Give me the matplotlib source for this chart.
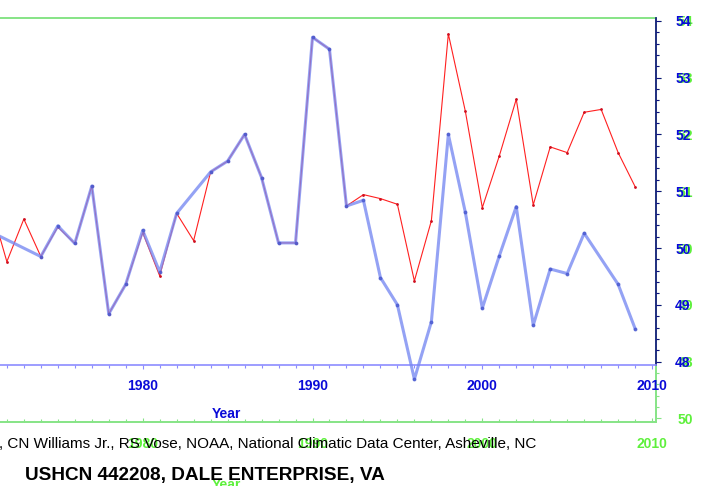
import matplotlib
matplotlib.use("Agg")
import matplotlib.pyplot as plt
from matplotlib.ticker import MultipleLocator, FixedLocator, FixedFormatter

# ---------------- data ----------------
red_years = list(range(1971, 2010))
red_values = [50.80, 49.76, 50.51, 49.85, 50.37, 50.08, 51.09, 48.84, 49.36, 50.27,
              49.51, 50.61, 50.13, 51.34, 51.53, 52.00, 51.24, 50.09, 50.09, 53.71,
              53.50, 50.74, 50.94, 50.87, 50.77, 49.42, 50.48, 53.77, 52.41, 50.71,
              51.62, 52.62, 50.76, 51.78, 51.68, 52.39, 52.44, 51.68, 51.08]

blue_years = [1970, 1974, 1975, 1976, 1977, 1978, 1979, 1980, 1981, 1982,
              1984, 1985, 1986, 1987, 1988, 1989, 1990, 1991, 1992, 1993,
              1994, 1995, 1996, 1997, 1998, 1999, 2000, 2001, 2002, 2003,
              2004, 2005, 2006, 2008, 2009]
blue_values = [50.44, 49.85, 50.39, 50.08, 51.09, 48.84, 49.36, 50.31, 49.58, 50.61,
               51.34, 51.53, 52.00, 51.24, 50.09, 50.09, 53.71, 53.50, 50.74, 50.84,
               49.48, 49.00, 47.69, 48.70, 52.00, 50.63, 48.94, 49.86, 50.73, 48.64,
               49.63, 49.55, 50.26, 49.36, 48.58]

blue_yticks = [48, 49, 50, 51, 52, 53, 54]
green_yticks = [47, 48, 49, 50, 51, 52, 53, 54]
green_ylabels = ["50", "48", "49", "50", "51", "52", "53", "54"]
x_label = "Year"
credit = ", CN Williams Jr., RS Vose, NOAA, National Climatic Data Center, Asheville, NC"
title = "USHCN 442208, DALE ENTERPRISE, VA"

# ---------------- layout helpers ----------------
W, H = 720, 486
DPI = 100
PT = 72.0 / DPI  # points per pixel

def fx(p):
    return p / W

def fy(p):
    return 1 - p / H

XLIM = (1959.55, 2010.25)
PPY = 16.98
X1980 = 142.7
left_px = X1980 + (XLIM[0] - 1980) * PPY
right_px = X1980 + (XLIM[1] - 1980) * PPY
top_px = 18
blue_bottom_px = 365
green_bottom_px = 422
BLUE_YLIM = (47.94, 54.05)
ppu = (blue_bottom_px - top_px) / (BLUE_YLIM[1] - BLUE_YLIM[0])
GREEN_YLIM = (BLUE_YLIM[1] - (green_bottom_px - top_px) / ppu, BLUE_YLIM[1])

plt.rcParams['font.family'] = ['Liberation Sans', 'DejaVu Sans']

fig = plt.figure(figsize=(W / DPI, H / DPI), dpi=DPI)
fig.patch.set_facecolor('white')

GREEN_LINE = '#86e486'
GREEN_TXT = '#5ef03c'
BLUE_TXT = '#0a0ad8'
BLUE_AX = '#8c8cff'
NAVY = '#101080'

# ---------------- green (back) axes ----------------
axg = fig.add_axes([fx(left_px), fy(green_bottom_px), fx(right_px - left_px),
                    (green_bottom_px - top_px) / H])
axg.set_zorder(0)
axg.set_xlim(*XLIM)
axg.set_ylim(*GREEN_YLIM)
axg.set_facecolor('white')
for s in ['top', 'bottom', 'right', 'left']:
    axg.spines[s].set_color(GREEN_LINE)
    axg.spines[s].set_linewidth(1.4)
axg.xaxis.set_major_locator(MultipleLocator(10))
axg.xaxis.set_minor_locator(MultipleLocator(1))
axg.yaxis.tick_right()
axg.yaxis.set_major_locator(FixedLocator(green_yticks))
axg.yaxis.set_major_formatter(FixedFormatter(green_ylabels))
axg.yaxis.set_minor_locator(MultipleLocator(0.2))
axg.tick_params(axis='x', which='both', direction='in', color=GREEN_LINE,
                labelcolor=GREEN_TXT, pad=11, labelsize=10, width=0.8)
axg.tick_params(axis='x', which='major', length=4 * PT)
axg.tick_params(axis='x', which='minor', length=3 * PT)
axg.tick_params(axis='y', which='both', direction='out', color=GREEN_LINE,
                labelcolor=GREEN_TXT, labelsize=10, width=0.8, pad=11.6)
axg.tick_params(axis='y', which='major', length=5 * PT)
axg.tick_params(axis='y', which='minor', length=3 * PT)
for lab in axg.get_xticklabels() + axg.get_yticklabels():
    lab.set_fontweight('bold')

# ---------------- blue (front) axes ----------------
ax = fig.add_axes([fx(left_px), fy(blue_bottom_px), fx(right_px - left_px),
                   (blue_bottom_px - top_px) / H])
ax.set_zorder(1)
ax.patch.set_alpha(0)
ax.set_xlim(*XLIM)
ax.set_ylim(*BLUE_YLIM)
ax.spines['top'].set_visible(False)
ax.spines['left'].set_visible(False)
ax.spines['bottom'].set_color(BLUE_AX)
ax.spines['bottom'].set_linewidth(1.2)
ax.spines['right'].set_color(NAVY)
ax.spines['right'].set_linewidth(1.2)
ax.xaxis.set_major_locator(MultipleLocator(10))
ax.xaxis.set_minor_locator(MultipleLocator(1))
ax.yaxis.tick_right()
ax.yaxis.set_major_locator(FixedLocator(blue_yticks))
ax.yaxis.set_minor_locator(MultipleLocator(0.2))
ax.tick_params(axis='x', which='both', direction='out', color=BLUE_AX,
               labelcolor=BLUE_TXT, pad=7.5, labelsize=10, width=0.8)
ax.tick_params(axis='x', which='major', length=4 * PT)
ax.tick_params(axis='x', which='minor', length=3 * PT)
ax.tick_params(axis='y', which='both', direction='out', color=NAVY,
               labelcolor=BLUE_TXT, labelsize=10, width=0.8, pad=10)
ax.tick_params(axis='y', which='major', length=5 * PT)
ax.tick_params(axis='y', which='minor', length=3 * PT)
for lab in ax.get_xticklabels() + ax.get_yticklabels():
    lab.set_fontweight('bold')

# series
ax.plot(red_years, red_values, color='#ff2020', lw=0.8, marker='.', ms=2.0,
        mec='#d01020', mfc='#d01020', zorder=3)
ax.plot(blue_years, blue_values, color='#7688f2', lw=2.2, alpha=0.78,
        marker='o', ms=1.8, mfc='#4a5ad0', mec='#4a5ad0', zorder=4, clip_on=False)

# axis labels
fig.text(fx(226.7), fy(414), x_label, color=BLUE_TXT, fontsize=10,
         fontweight='bold', ha='center', va='center', zorder=5)
fig.text(fx(226.7), fy(478), x_label, color=GREEN_TXT, fontsize=10,
         fontweight='bold', ha='center', va='top', zorder=4)

# credit and title
fig.text(fx(-1), fy(448), credit, color='black', fontsize=11,
         ha='left', va='baseline', zorder=6)
fig.text(fx(25), fy(480), title, color='black', fontsize=13.7,
         fontweight='bold', ha='left', va='baseline', zorder=6)

fig.savefig('out.png', dpi=DPI, facecolor='white')
